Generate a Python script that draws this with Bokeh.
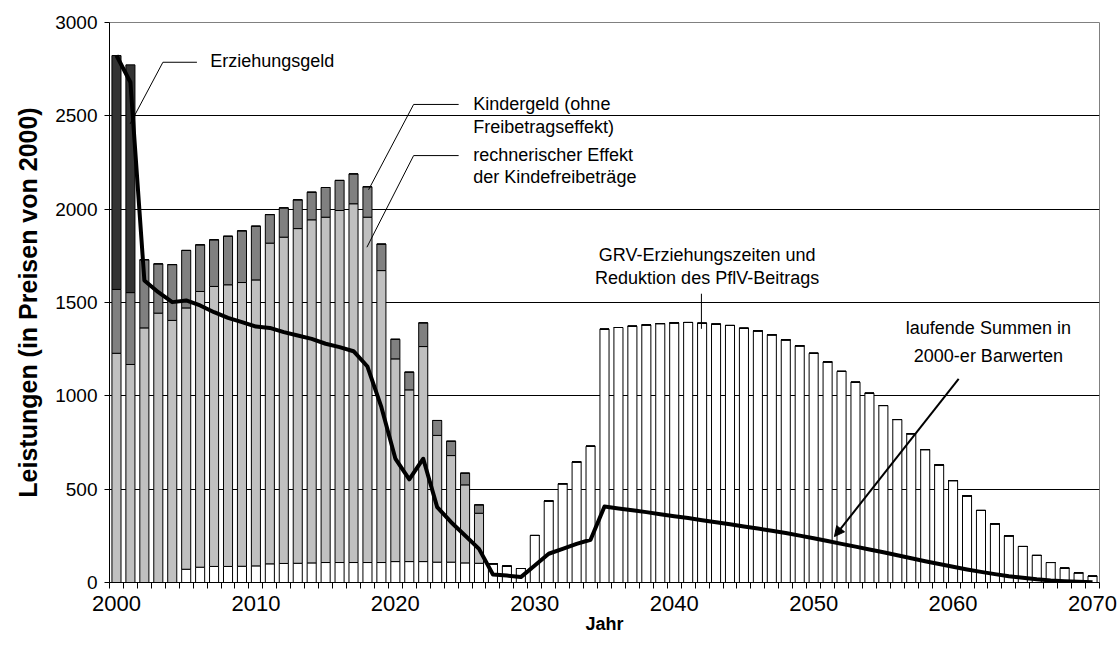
from bokeh.plotting import figure
from bokeh.models import Range1d, FixedTicker, ColumnDataSource, Arrow, NormalHead
from bokeh.embed import file_html
from bokeh.resources import INLINE
from bokeh.core.properties import value

years = list(range(2000, 2071))

# white: GRV-Erziehungszeiten und Reduktion des PflV-Beitrags
grv = [0, 0, 0, 0, 0, 71, 82, 86, 86, 87,
       89, 100, 102, 103, 105, 107, 107, 107, 107, 107,
       112, 112, 112, 109, 109, 105, 103, 100, 88, 75,
       252, 437, 529, 646, 730, 1357, 1366, 1373, 1380, 1387,
       1391, 1393, 1389, 1384, 1377, 1362, 1348, 1327, 1300, 1268,
       1228, 1182, 1131, 1073, 1014, 948, 873, 797, 712, 630,
       546, 464, 386, 314, 250, 193, 145, 107, 77, 52,
       34]
# light grey: rechnerischer Effekt der Kindefreibeträge
freibetrag = [1228, 1168, 1364, 1443, 1404, 1400, 1477, 1500, 1509, 1520,
              1532, 1718, 1748, 1793, 1838, 1850, 1886, 1922, 1850, 1564,
              1086, 920, 1152, 679, 571, 418, 268, 0, 0, 0,
              0, 0, 0, 0, 0, 0, 0, 0, 0, 0,
              0, 0, 0, 0, 0, 0, 0, 0, 0, 0,
              0, 0, 0, 0, 0, 0, 0, 0, 0, 0,
              0, 0, 0, 0, 0, 0, 0, 0, 0, 0,
              0]
# medium grey: Kindergeld (ohne Freibetragseffekt)
kindergeld = [342, 385, 365, 264, 299, 308, 250, 250, 260, 277,
              288, 153, 157, 154, 148, 159, 161, 160, 163, 142,
              105, 95, 127, 80, 77, 63, 45, 0, 0, 0,
              0, 0, 0, 0, 0, 0, 0, 0, 0, 0,
              0, 0, 0, 0, 0, 0, 0, 0, 0, 0,
              0, 0, 0, 0, 0, 0, 0, 0, 0, 0,
              0, 0, 0, 0, 0, 0, 0, 0, 0, 0,
              0]
# dark grey: Erziehungsgeld
erziehungsgeld = [1253, 1220, 0, 0, 0, 0, 0, 0, 0, 0,
                  0, 0, 0, 0, 0, 0, 0, 0, 0, 0,
                  0, 0, 0, 0, 0, 0, 0, 0, 0, 0,
                  0, 0, 0, 0, 0, 0, 0, 0, 0, 0,
                  0, 0, 0, 0, 0, 0, 0, 0, 0, 0,
                  0, 0, 0, 0, 0, 0, 0, 0, 0, 0,
                  0, 0, 0, 0, 0, 0, 0, 0, 0, 0,
                  0]
# laufende Summen in 2000-er Barwerten
summen = [2823, 2680, 1618, 1555, 1502, 1511, 1484, 1448, 1418, 1395,
          1371, 1364, 1341, 1323, 1305, 1279, 1261, 1239, 1157, 939,
          664, 552, 663, 404, 323, 252, 180, 43, 37, 29,
          91, 154, 180, 207, 229, 407, 397, 387, 377, 366,
          355, 345, 334, 323, 312, 300, 289, 277, 265, 251,
          237, 222, 207, 192, 177, 162, 146, 130, 114, 99,
          84, 70, 57, 45, 34, 25, 17, 11, 7, 4,
          2]

y_ticks = [0, 500, 1000, 1500, 2000, 2500, 3000]
x_tick_labels = [2000, 2010, 2020, 2030, 2040, 2050, 2060, 2070]

FONT = "Liberation Sans"

p = figure(width=1118, height=659, output_backend="svg", toolbar_location=None,
           x_range=Range1d(1999.5, 2070.5), y_range=Range1d(0, 3000),
           min_border_left=109, min_border_right=19, min_border_top=22, min_border_bottom=77)
p.background_fill_color = "white"
p.border_fill_color = "white"
p.outline_line_color = "#808080"
p.outline_line_width = 1

# grid
p.xgrid.grid_line_color = None
p.ygrid.ticker = FixedTicker(ticks=y_ticks)
p.ygrid.grid_line_color = "#000000"
p.ygrid.grid_line_width = 1

# y axis
p.yaxis.ticker = FixedTicker(ticks=y_ticks)
p.yaxis.major_tick_out = 5
p.yaxis.major_tick_in = 0
p.yaxis.minor_tick_out = 0
p.yaxis.minor_tick_in = 0
p.yaxis.axis_line_color = "black"
p.yaxis.major_tick_line_color = "black"
p.yaxis.major_label_text_font = FONT
p.yaxis.major_label_text_font_size = "19px"
p.yaxis.major_label_text_color = "black"
p.yaxis.major_label_standoff = 7
p.yaxis.axis_label = "Leistungen (in Preisen von 2000)"
p.yaxis.axis_label_text_font = FONT
p.yaxis.axis_label_text_font_style = "bold"
p.yaxis.axis_label_text_font_size = "25px"
p.yaxis.axis_label_text_color = "black"
p.yaxis.axis_label_standoff = 10

# x axis
p.xaxis.ticker = FixedTicker(ticks=x_tick_labels, minor_ticks=[y - 0.5 for y in years] + [2070.5])
p.xaxis.major_tick_out = 0
p.xaxis.major_tick_in = 0
p.xaxis.minor_tick_out = 6
p.xaxis.minor_tick_in = 0
p.xaxis.minor_tick_line_color = "black"
p.xaxis.axis_line_color = "black"
p.xaxis.major_label_text_font = FONT
p.xaxis.major_label_text_font_size = "22px"
p.xaxis.major_label_text_color = "black"
p.xaxis.major_label_standoff = 7
p.xaxis.axis_label = "Jahr"
p.xaxis.axis_label_text_font = FONT
p.xaxis.axis_label_text_font_style = "bold"
p.xaxis.axis_label_text_font_size = "18px"
p.xaxis.axis_label_text_color = "black"
p.xaxis.axis_label_standoff = 0

src = ColumnDataSource(dict(year=years, grv=grv, frei=freibetrag, kg=kindergeld, ezg=erziehungsgeld))
p.vbar_stack(["grv", "frei", "kg", "ezg"], x="year", width=0.65, source=src,
             fill_color=["#ffffff", "#c0c0c0", "#808080", "#333333"],
             line_color="black", line_width=1)

p.line(years, summen, line_width=4, line_color="black", line_join="round")

# annotations
tf = value(FONT)
def txt(x, y, s, align="left"):
    p.text([x], [y], text=[s], text_font=tf, text_font_size="18px", text_color="black",
           text_align=align, text_baseline="middle")

txt(2006.72, 2793, "Erziehungsgeld")
txt(2025.59, 2566, "Kindergeld (ohne")
txt(2025.59, 2441, "Freibetragseffekt)")
txt(2025.59, 2291, "rechnerischer Effekt")
txt(2025.59, 2175, "der Kindefreibeträge")
txt(2042.36, 1752, "GRV-Erziehungszeiten und", "center")
txt(2042.36, 1629, "Reduktion des PflV-Beitrags", "center")
txt(2062.53, 1361, "laufende Summen in", "center")
txt(2062.53, 1211, "2000-er Barwerten", "center")

p.line([2005.77, 2003.33, 2000.98], [2787, 2787, 2457], line_color="black", line_width=1)
p.line([2024.54, 2021.31, 2018.08], [2561, 2561, 2104], line_color="black", line_width=1)
p.line([2024.54, 2021.31, 2017.96], [2287, 2287, 1796], line_color="black", line_width=1)
p.line([2041.95, 2041.95], [1547, 1359], line_color="black", line_width=1)

p.add_layout(Arrow(x_start=2060.4, y_start=1091, x_end=2051.49, y_end=246,
                   line_width=2, line_color="black",
                   end=NormalHead(size=10, fill_color="black", line_color="black")))

open("out.html", "w").write(file_html(p, INLINE))
